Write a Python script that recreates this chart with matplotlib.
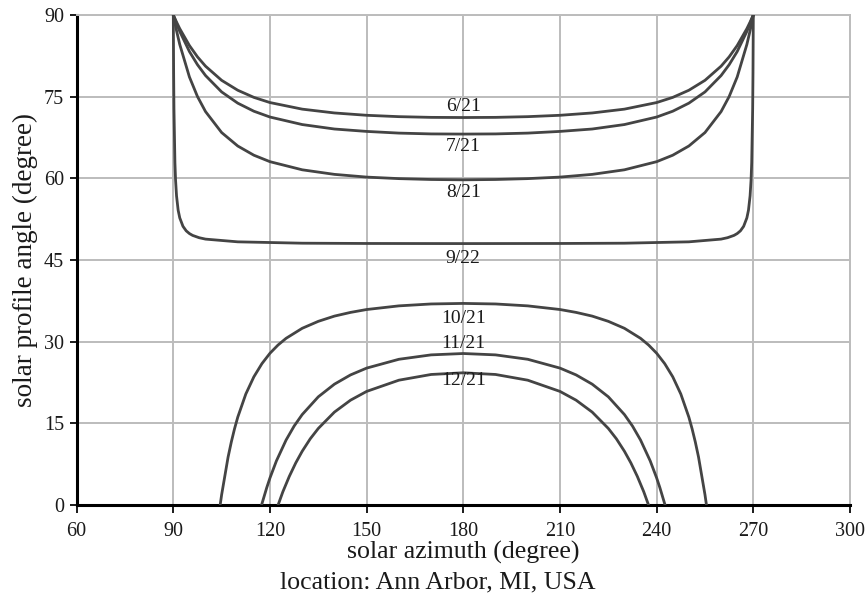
import matplotlib
matplotlib.use("Agg")
import matplotlib.pyplot as plt

plt.rcParams['font.family'] = ['Liberation Serif', 'DejaVu Serif']

# ---- data (solar azimuth in degree, solar profile angle in degree) ----
az_0621 = [90.0, 91.0, 92.0, 95.0, 97.5, 100.0, 105.0, 110.0, 115.0, 120.0, 130.0, 140.0, 150.0, 160.0, 170.0, 180.0,
           190.0, 200.0, 210.0, 220.0, 230.0, 240.0, 245.0, 250.0, 255.0, 260.0, 262.5, 265.0, 268.0, 269.0, 270.0]
pa_0621 = [90.0, 88.69, 87.48, 84.38, 82.30, 80.59, 77.99, 76.17, 74.86, 73.91, 72.70, 72.00, 71.57, 71.32, 71.19, 71.16,
           71.19, 71.32, 71.57, 72.00, 72.70, 73.91, 74.86, 76.17, 77.99, 80.59, 82.30, 84.38, 87.48, 88.69, 90.0]

az_0721 = [90.0, 91.0, 92.0, 95.0, 97.5, 100.0, 105.0, 110.0, 115.0, 120.0, 130.0, 140.0, 150.0, 160.0, 170.0, 180.0,
           190.0, 200.0, 210.0, 220.0, 230.0, 240.0, 245.0, 250.0, 255.0, 260.0, 262.5, 265.0, 268.0, 269.0, 270.0]
pa_0721 = [90.0, 88.42, 86.97, 83.28, 80.86, 78.87, 75.86, 73.80, 72.32, 71.25, 69.87, 69.05, 68.61, 68.30, 68.15, 68.12,
           68.15, 68.30, 68.61, 69.05, 69.87, 71.25, 72.32, 73.80, 75.86, 78.87, 80.86, 83.28, 86.97, 88.42, 90.0]

az_0821 = [90.0, 90.5, 91.0, 92.0, 95.0, 97.5, 100.0, 105.0, 110.0, 115.0, 120.0, 130.0, 140.0, 150.0, 160.0, 170.0, 180.0,
           190.0, 200.0, 210.0, 220.0, 230.0, 240.0, 245.0, 250.0, 255.0, 260.0, 262.5, 265.0, 268.0, 269.0, 269.5, 270.0]
pa_0821 = [90.0, 88.5, 87.11, 84.58, 78.61, 75.01, 72.25, 68.40, 65.93, 64.24, 63.05, 61.56, 60.72, 60.22, 59.94, 59.78, 59.72,
           59.78, 59.94, 60.22, 60.72, 61.56, 63.05, 64.24, 65.93, 68.40, 72.25, 75.01, 78.61, 84.58, 87.11, 88.5, 90.0]

az_0922 = [90.0, 90.1, 90.2, 90.5, 90.7, 91.0, 91.5, 92.0, 93.0, 94.0, 95.0, 96.0, 98.0, 100.0, 110.0, 130.0, 150.0, 180.0,
           210.0, 230.0, 250.0, 260.0, 262.0, 264.0, 265.0, 266.0, 267.0, 268.0, 268.5, 269.0, 269.3, 269.5, 269.8, 269.9, 270.0]
pa_0922 = [90.0, 79.4, 72.8, 62.87, 59.67, 56.78, 54.15, 52.73, 51.18, 50.35, 49.85, 49.51, 49.09, 48.83, 48.33, 48.08, 48.03, 48.01,
           48.03, 48.08, 48.33, 48.83, 49.09, 49.51, 49.85, 50.35, 51.18, 52.73, 54.15, 56.78, 59.67, 62.87, 72.8, 79.4, 90.0]

az_1021 = [104.54, 105.0, 107.0, 108.0, 109.0, 110.0, 112.5, 115.0, 117.5, 120.0, 122.5, 125.0, 130.0, 135.0, 140.0, 145.0,
           150.0, 160.0, 170.0, 180.0, 190.0, 200.0, 210.0, 215.0, 220.0, 225.0, 230.0, 235.0, 237.5, 240.0, 242.5, 245.0,
           247.5, 250.0, 251.0, 252.0, 253.0, 255.0, 255.46]
pa_1021 = [0.0, 1.89, 8.80, 11.57, 14.00, 16.13, 20.38, 23.54, 25.96, 27.87, 29.38, 30.61, 32.45, 33.73, 34.69, 35.37,
           35.90, 36.57, 36.92, 37.02, 36.92, 36.57, 35.90, 35.37, 34.69, 33.73, 32.45, 30.61, 29.38, 27.87, 25.96, 23.54,
           20.38, 16.13, 14.00, 11.57, 8.80, 1.89, 0.0]

az_1121 = [117.39, 119.0, 120.0, 122.0, 125.0, 127.5, 130.0, 135.0, 140.0, 145.0, 150.0, 160.0, 170.0, 180.0,
           190.0, 200.0, 210.0, 215.0, 220.0, 225.0, 230.0, 232.5, 235.0, 238.0, 240.0, 241.0, 242.61]
pa_1121 = [0.0, 3.19, 4.97, 8.10, 11.93, 14.50, 16.61, 19.87, 22.19, 23.89, 25.14, 26.76, 27.57, 27.82,
           27.57, 26.76, 25.14, 23.89, 22.19, 19.87, 16.61, 14.50, 11.93, 8.10, 4.97, 3.19, 0.0]

az_1221 = [122.52, 124.0, 126.0, 128.0, 130.0, 132.5, 135.0, 140.0, 145.0, 150.0, 160.0, 170.0, 180.0,
           190.0, 200.0, 210.0, 215.0, 220.0, 225.0, 227.5, 230.0, 232.0, 234.0, 236.0, 237.48]
pa_1221 = [0.0, 2.43, 5.26, 7.73, 9.87, 12.16, 14.06, 17.06, 19.25, 20.86, 22.92, 23.97, 24.28,
           23.97, 22.92, 20.86, 19.25, 17.06, 14.06, 12.16, 9.87, 7.73, 5.26, 2.43, 0.0]

series = [
    (az_0621, pa_0621), (az_0721, pa_0721), (az_0821, pa_0821), (az_0922, pa_0922),
    (az_1021, pa_1021), (az_1121, pa_1121), (az_1221, pa_1221),
]

curve_labels = ["6/21", "7/21", "8/21", "9/22", "10/21", "11/21", "12/21"]
label_x = [180, 180, 180, 180, 180, 180, 180]
label_y = [73.1, 65.9, 57.3, 45.3, 34.2, 29.6, 22.9]

x_ticks = [60, 90, 120, 150, 180, 210, 240, 270, 300]
y_ticks = [0, 15, 30, 45, 60, 75, 90]

# ---- figure ----
fig = plt.figure(figsize=(8.66, 6.05), dpi=100)
ax = fig.add_axes([0.0885, 0.1653, 0.893, 0.810])

line_color = '#444444'
for xs, ys in series:
    ax.plot(xs, ys, color=line_color, lw=2.0, solid_joinstyle='round', zorder=3)

for t, x, y in zip(curve_labels, label_x, label_y):
    ax.text(x, y, t, ha='center', va='center', fontsize=14, color='#1a1a1a', zorder=4)

ax.set_xlim(60, 300)
ax.set_ylim(0, 90)
ax.set_xticks(x_ticks)
ax.set_yticks(y_ticks)
ax.grid(True, color='#bcbcbc', lw=1.4, zorder=0)
ax.set_axisbelow(True)

for s in ['top', 'right']:
    ax.spines[s].set_color('#bcbcbc')
    ax.spines[s].set_linewidth(1.4)
for s in ['left', 'bottom']:
    ax.spines[s].set_color('black')
    ax.spines[s].set_linewidth(2.2)

ax.tick_params(axis='x', direction='out', length=6, width=1.4, labelsize=14.5, colors='#1a1a1a', pad=6)
ax.tick_params(axis='y', direction='out', length=5, width=1.4, labelsize=14.5, colors='#1a1a1a', pad=4)

ax.set_xlabel("solar azimuth (degree)", fontsize=18.6, color='#1a1a1a', labelpad=0)
ax.set_ylabel("solar profile angle (degree)", fontsize=19.5, color='#1a1a1a', labelpad=4)
fig.text(0.5 + 0.005, 0.038, "location: Ann Arbor, MI, USA", ha='center', va='center', fontsize=18.6, color='#1a1a1a')

fig.savefig("out.png", dpi=100)
